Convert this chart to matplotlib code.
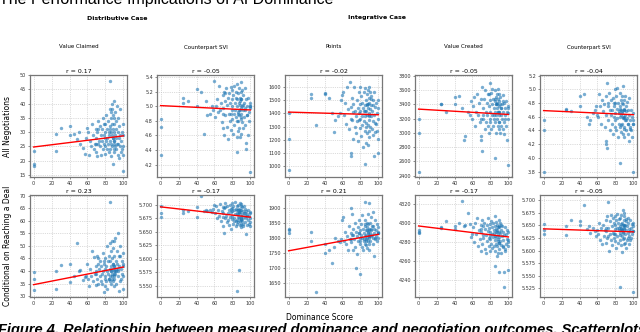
import matplotlib
matplotlib.use("Agg")
import matplotlib.pyplot as plt
from matplotlib.ticker import MultipleLocator

# shared dominance scores (x) for every panel
dominance = [
    0, 0, 0, 25, 25, 30, 40, 40, 45, 48, 50, 52, 55, 57, 58, 60,
    61, 62, 63, 64, 65, 66, 67, 68, 69, 70,
    70, 71, 71, 72, 72, 73, 74, 74, 75, 75,
    76, 76, 77, 77, 78, 78, 79, 79, 80, 80,
    80, 81, 81, 82, 82, 82, 83, 83, 84, 84,
    85, 85, 85, 85, 85, 86, 86, 86, 86, 87,
    87, 87, 87, 88, 88, 88, 88, 89, 89, 89,
    90, 90, 90, 90, 91, 91, 91, 92, 92, 92,
    93, 93, 94, 94, 94, 95, 95, 95, 96, 96,
    97, 97, 98, 98, 99, 100, 100, 100, 72, 86,
    88, 90, 94, 84, 78, 92, 96, 87, 89, 85, 70, 100,
]

all_value_claimed = [
    23.5, 19, 18, 23.5, 29.5, 31.5, 32, 29, 29.5, 27.5, 30, 26, 24.5, 22.5, 28, 31.5,
    30, 22, 27, 25, 33, 29, 24, 26, 31, 23,
    28, 21.5, 30, 26, 34, 27, 25, 32, 22, 29,
    27, 31, 24, 35, 26, 29, 22.5, 33, 28, 25,
    30, 27, 36, 24, 31, 28, 26, 34, 23, 29,
    48, 38, 27, 32, 24, 30, 26, 35, 21.5, 29,
    33, 25, 40, 28, 19, 31, 36, 26, 30, 24,
    41, 27, 33, 23, 29, 37, 25, 31, 28, 34,
    26, 39, 30, 22, 35, 21, 28, 32, 25, 38,
    27, 23, 30, 24, 33, 16.5, 29, 25, 31, 37,
    28, 35, 26, 30, 33, 24, 29, 38, 27, 31, 26, 22,
]
all_svi_dist = [
    4.82, 4.72, 4.33, 5.12, 5.04, 5.08, 5.24, 5.0, 5.2, 4.62, 5.08, 4.88, 4.9, 5.0, 4.95, 5.35,
    4.85, 5.0, 5.1, 4.92, 5.28, 4.95, 5.05, 4.78, 5.15, 4.7,
    4.98, 5.2, 4.6, 5.08, 4.88, 5.25, 4.72, 5.02, 4.55, 5.12,
    4.9, 5.18, 4.8, 5.05, 5.27, 4.68, 4.95, 5.1, 4.82, 5.22,
    5.0, 4.62, 5.15, 4.9, 5.28, 4.75, 5.05, 4.95, 5.2, 4.85,
    4.37, 5.1, 4.58, 5.0, 5.3, 4.8, 5.18, 4.92, 4.66, 5.05,
    4.88, 5.25, 4.7, 5.12, 4.95, 4.58, 5.02, 5.2, 4.82, 4.98,
    5.33, 4.9, 5.1, 4.62, 5.0, 4.78, 5.22, 4.95, 4.7, 5.15,
    4.85, 5.05, 4.98, 5.25, 4.75, 4.42, 4.5, 5.1, 4.88, 5.0,
    4.6, 5.12, 4.92, 4.8, 5.0, 4.1, 4.98, 5.05, 5.18, 4.9,
    5.08, 4.85, 4.95, 5.12, 4.9, 5.02, 4.88, 4.95, 5.1, 4.8, 4.9, 5.0,
]
all_points = [
    1400, 1210, 970, 1550, 1520, 1310, 1555, 1545, 1520, 1405, 1260, 1350, 1380, 1400, 1500, 1540,
    1560, 1390, 1480, 1320, 1600, 1430, 1280, 1640, 1450, 1100,
    1080, 1520, 1350, 1210, 1470, 1600, 1300, 1420, 1250, 1380,
    1500, 1340, 1440, 1190, 1560, 1400, 1290, 1470, 1600, 1360,
    1420, 1230, 1530, 1380, 1310, 1480, 1150, 1440, 1560, 1340,
    1020, 1460, 1270, 1590, 1380, 1180, 1500, 1420, 1330, 1550,
    1250, 1470, 1390, 1580, 1160, 1440, 1310, 1520, 1400, 1270,
    1600, 1350, 1480, 1220, 1430, 1560, 1300, 1460, 1380, 1530,
    1280, 1420, 1500, 1340, 1460, 1080, 1390, 1560, 1260, 1450,
    1320, 1480, 1270, 1400, 1500, 1100, 1360, 1440, 1410, 1300,
    1470, 1380, 1240, 1420, 1350, 1510, 1330, 1460, 1390, 1420, 1360, 1210,
]
all_value_created = [
    3200, 3000, 2450, 3400, 3400, 3300, 3500, 3400, 3520, 3350, 2900, 2950, 3300, 3250, 3450, 3200,
    3380, 3500, 3100, 3300, 3550, 3250, 3420, 3150, 3480, 2950,
    2900, 3650, 2750, 3350, 3200, 3480, 3050, 3600, 3300, 3150,
    3420, 3250, 3550, 3100, 3380, 3000, 3470, 3200, 3700, 3300,
    3150, 3560, 3050, 3400, 3620, 3250, 3480, 3100, 3350, 3200,
    2650, 3450, 3300, 3600, 3150, 3400, 3250, 3500, 3000, 3350,
    3550, 3200, 3420, 3100, 3480, 3300, 3620, 3050, 3380, 3250,
    3450, 3150, 3550, 3300, 3400, 3000, 3500, 3250, 3350, 3100,
    3400, 3200, 3530, 3050, 3300, 2980, 3420, 3150, 3350, 3250,
    3100, 3450, 2900, 3300, 3380, 2550, 3200, 3350, 3250, 3400,
    3300, 3150, 3450, 3250, 3550, 3350, 3200, 3400, 3300, 3480, 3200, 3280,
]
all_svi_integ = [
    4.55, 4.4, 3.8, 4.72, 4.7, 4.68, 4.9, 4.75, 4.93, 4.6, 4.5, 4.55, 4.65, 4.7, 4.75, 4.62,
    4.6, 4.93, 4.75, 4.5, 4.85, 4.68, 4.78, 4.45, 4.9, 4.25,
    4.2, 5.1, 4.15, 4.8, 4.55, 4.95, 4.4, 4.7, 4.62, 4.85,
    4.7, 4.5, 4.88, 4.35, 4.75, 4.6, 5.0, 4.45, 4.8, 4.65,
    4.55, 4.9, 4.4, 4.72, 5.02, 4.58, 4.8, 4.3, 4.68, 4.5,
    3.93, 4.75, 4.6, 4.95, 4.45, 4.7, 4.85, 4.38, 4.62, 4.8,
    4.5, 4.9, 4.65, 4.35, 4.78, 4.58, 5.05, 4.42, 4.7, 4.6,
    4.85, 4.45, 4.72, 4.3, 4.62, 4.9, 4.55, 4.75, 4.4, 4.68,
    4.58, 4.82, 4.35, 4.7, 4.5, 4.25, 4.62, 4.88, 4.45, 4.55,
    4.7, 4.4, 4.3, 4.6, 4.5, 3.8, 4.65, 4.55, 4.75, 4.48,
    4.6, 4.7, 4.5, 4.65, 4.8, 4.55, 4.42, 4.68, 4.58, 4.72, 4.62, 4.5,
]

deal_value_claimed = [
    39.5, 37, 32.5, 40, 33, 42.5, 43, 35.5, 38, 51, 40, 40.5, 36.5, 37.5, 38, 43,
    37, 34, 41, 38, 48, 36, 45.5, 39, 42, 34.5,
    40, 46, 37, 43, 35, 41, 38, 44, 36, 42,
    39, 35, 47, 40, 31.7, 43, 37, 41, 34, 45,
    38, 42, 36, 50, 40, 33, 44, 39, 37, 46,
    67.5, 51, 41, 38, 44, 35, 48, 40, 42, 37,
    45, 39, 52, 36, 43, 41, 49, 38, 40, 34,
    52, 42, 46, 37, 40, 53, 39, 44, 35, 41,
    43, 48, 38, 55, 40, 32, 42, 46, 36, 50,
    41, 37, 44, 39, 47, 38, 42, 33, 45, 40,
    43, 39, 41, 37, 44, 40, 46, 38, 42, 36, 39, 43,
]
deal_svi_dist = [
    5.697, 5.685, 5.678, 5.69, 5.684, 5.688, 5.695, 5.677, 5.716, 5.688, 5.69, 5.689, 5.69, 5.687, 5.692, 5.7,
    5.685, 5.698, 5.675, 5.69, 5.68, 5.702, 5.67, 5.688, 5.695, 5.66,
    5.684, 5.648, 5.693, 5.675, 5.704, 5.68, 5.668, 5.697, 5.685, 5.672,
    5.69, 5.662, 5.7, 5.678, 5.686, 5.655, 5.694, 5.673, 5.703, 5.68,
    5.688, 5.665, 5.698, 5.676, 5.69, 5.67, 5.705, 5.683, 5.66, 5.692,
    5.540, 5.685, 5.672, 5.698, 5.665, 5.69, 5.678, 5.7, 5.668, 5.684,
    5.579, 5.692, 5.675, 5.703, 5.662, 5.686, 5.67, 5.697, 5.68, 5.658,
    5.69, 5.672, 5.702, 5.665, 5.683, 5.695, 5.67, 5.688, 5.676, 5.66,
    5.685, 5.698, 5.668, 5.68, 5.692, 5.645, 5.675, 5.688, 5.662, 5.683,
    5.672, 5.69, 5.665, 5.68, 5.675, 5.668, 5.685, 5.66, 5.695, 5.682,
    5.69, 5.676, 5.684, 5.67, 5.692, 5.664, 5.68, 5.687, 5.674, 5.69, 5.678, 5.686,
]
deal_points = [
    1830, 1815, 1828, 1820, 1790, 1620, 1780, 1750, 1760, 1715, 1770, 1800, 1790, 1785, 1795, 1860,
    1870, 1790, 1820, 1780, 1805, 1760, 1840, 1795, 1815, 1900,
    1785, 1880, 1810, 1760, 1830, 1795, 1850, 1770, 1700, 1820,
    1805, 1745, 1835, 1790, 1815, 1860, 1780, 1680, 1800, 1825,
    1790, 1845, 1810, 1770, 1875, 1800, 1760, 1830, 1795, 1815,
    1920, 1780, 1840, 1805, 1860, 1790, 1825, 1810, 1775, 1850,
    1800, 1835, 1765, 1880, 1815, 1790, 1845, 1805, 1825, 1780,
    1915, 1800, 1830, 1760, 1850, 1815, 1790, 1870, 1805, 1825,
    1810, 1840, 1780, 1885, 1800, 1740, 1830, 1815, 1795, 1860,
    1805, 1825, 1790, 1845, 1815, 1820, 1800, 1835, 1810, 1795,
    1820, 1805, 1840, 1790, 1815, 1830, 1800, 1825, 1810, 1845, 1795, 1815,
]
deal_value_created = [
    4292, 4290, 4289, 4295, 4294, 4302, 4297, 4293, 4300, 4323, 4296, 4298, 4310, 4299, 4285, 4288,
    4295, 4280, 4300, 4288, 4305, 4275, 4292, 4283, 4298, 4270,
    4290, 4303, 4278, 4296, 4284, 4300, 4272, 4293, 4287, 4268,
    4298, 4281, 4291, 4305, 4276, 4294, 4286, 4299, 4270, 4290,
    4283, 4302, 4278, 4295, 4288, 4273, 4300, 4285, 4292, 4276,
    4255, 4307, 4282, 4296, 4270, 4290, 4278, 4301, 4285, 4265,
    4292, 4275, 4298, 4283, 4268, 4295, 4287, 4303, 4279, 4290,
    4248, 4285, 4296, 4272, 4289, 4281, 4300, 4268, 4292, 4277,
    4286, 4296, 4274, 4290, 4282, 4248, 4232, 4287, 4295, 4270,
    4288, 4278, 4292, 4283, 4275, 4250, 4290, 4280, 4287, 4293,
    4281, 4295, 4276, 4289, 4284, 4298, 4272, 4290, 4279, 4286, 4293, 4282,
]
deal_svi_integ = [
    5.652, 5.64, 5.633, 5.648, 5.63, 5.66, 5.658, 5.65, 5.69, 5.642, 5.648, 5.635, 5.645, 5.638, 5.628, 5.64,
    5.632, 5.655, 5.62, 5.645, 5.612, 5.65, 5.628, 5.64, 5.66, 5.615,
    5.638, 5.668, 5.625, 5.697, 5.645, 5.6, 5.658, 5.632, 5.67, 5.62,
    5.648, 5.61, 5.665, 5.635, 5.655, 5.625, 5.642, 5.668, 5.618, 5.65,
    5.632, 5.66, 5.605, 5.645, 5.672, 5.628, 5.655, 5.615, 5.64, 5.662,
    5.527, 5.648, 5.62, 5.665, 5.635, 5.652, 5.61, 5.645, 5.67, 5.628,
    5.655, 5.598, 5.64, 5.68, 5.622, 5.65, 5.635, 5.668, 5.612, 5.645,
    5.66, 5.625, 5.642, 5.675, 5.615, 5.65, 5.632, 5.662, 5.605, 5.64,
    5.648, 5.62, 5.665, 5.635, 5.655, 5.612, 5.642, 5.628, 5.66, 5.638,
    5.645, 5.625, 5.652, 5.632, 5.648, 5.518, 5.638, 5.655, 5.628, 5.642,
    5.636, 5.65, 5.625, 5.645, 5.632, 5.658, 5.62, 5.64, 5.648, 5.63, 5.645, 5.638,
]

columns = ["Value Claimed", "Counterpart SVI", "Points", "Value Created", "Counterpart SVI"]
row_labels = ["All Negotiations", "Conditional on Reaching a Deal"]
panel_values = [
    [all_value_claimed, all_svi_dist, all_points, all_value_created, all_svi_integ],
    [deal_value_claimed, deal_svi_dist, deal_points, deal_value_created, deal_svi_integ],
]
r_values = [
    [0.17, -0.05, -0.02, -0.05, -0.04],
    [0.23, -0.17, 0.21, -0.17, -0.05],
]
# fitted line value at dominance 0 and 100
fit_ends = [
    [(24.8, 28.7), (5.01, 4.95), (1410, 1390), (3335, 3260), (4.69, 4.63)],
    [(34.6, 41.6), (5.696, 5.677), (1757, 1812), (4296.5, 4285), (5.643, 5.637)],
]
y_limits = [
    [(14.3, 50), (4.03, 5.43), (920, 1690), (2380, 3815), (3.72, 5.21)],
    [(29.7, 70.2), (5.529, 5.718), (1603, 1943), (4222, 4329), (5.508, 5.710)],
]
y_steps = [[5, 0.2, 100, 200, 0.2], [5, 0.025, 50, 20, 0.025]]

W, H = 640, 332
fig = plt.figure(figsize=(W / 100, H / 100), dpi=100)
lefts = [30, 157, 285, 415, 540]
tops = [75, 195]
aw, ah = 97, 102

for r in range(2):
    for c in range(5):
        ax = fig.add_axes([lefts[c] / W, 1 - (tops[r] + ah) / H, aw / W, ah / H])
        ax.scatter(dominance, panel_values[r][c], s=6, color="#1f77b4", alpha=0.6, linewidths=0, zorder=2)
        a, b = fit_ends[r][c]
        ax.plot([0, 100], [a, b], color="red", lw=1.0, zorder=3)
        ax.set_xlim(-4, 104)
        ax.set_ylim(*y_limits[r][c])
        ax.xaxis.set_major_locator(MultipleLocator(20))
        ax.yaxis.set_major_locator(MultipleLocator(y_steps[r][c]))
        ax.grid(True, ls=":", lw=0.5, color="#bbbbbb", zorder=0)
        ax.tick_params(labelsize=3.5, length=1.5, width=0.4, pad=1.5, colors="#333333")
        for sp in ax.spines.values():
            sp.set_color("#777777")
            sp.set_linewidth(0.9)
        ax.set_title(f"r = {r_values[r][c]:.2f}", fontsize=4.5, pad=1.5)
    fig.text(8 / W, 1 - (tops[r] + ah / 2) / H, row_labels[r], fontsize=5.5, rotation=90,
             ha="center", va="center")

for c, name in enumerate(columns):
    fig.text((lefts[c] + aw / 2) / W, 1 - 47 / H, name, fontsize=4, ha="center", va="center")

fig.text(117 / W, 1 - 18 / H, "Distributive Case", fontsize=4.5, weight="bold", ha="center", va="center")
fig.text(377 / W, 1 - 18 / H, "Integrative Case", fontsize=4.5, weight="bold", ha="center", va="center")
fig.text(320 / W, 1 - 318 / H, "Dominance Score", fontsize=5.5, ha="center", va="center")

fig.text(-1 / W, 1 - 4 / H, "The Performance Implications of AI Dominance", fontsize=11.5,
         family="Liberation Sans", ha="left", va="baseline")
fig.text(-2 / W, 1 - 323 / H,
         "Figure 4. Relationship between measured dominance and negotiation outcomes. Scatterplots",
         fontsize=10.5, family="Liberation Sans", weight="bold", style="italic", ha="left", va="top")

fig.savefig("out.png", dpi=100)
